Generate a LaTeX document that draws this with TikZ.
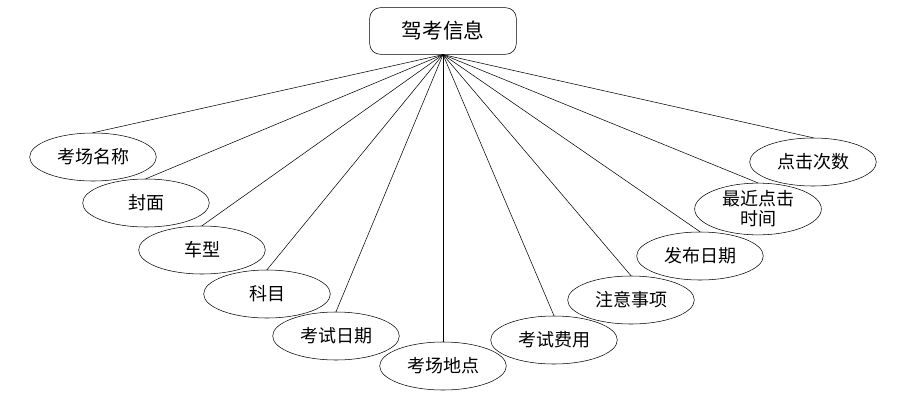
\documentclass[tikz,border=0pt]{standalone}
\usepackage{fontspec}
\setmainfont{Noto Sans CJK SC}
\usetikzlibrary{shapes.geometric}

\tikzset{
    attr/.style={draw, ellipse, thin, minimum width=95pt, minimum height=36pt,
        inner sep=0pt, align=center, font=\fontsize{13.5}{15}\selectfont},
    entity/.style={draw, rounded corners=8pt, thin, minimum width=110pt, minimum height=35pt,
        font=\fontsize{15.5}{17}\selectfont},
    link/.style={thin}
}

\begin{document}
\begin{tikzpicture}[x=0.75pt, y=-0.75pt]
        % Canvas
        \useasboundingbox (0,0) rectangle (922,400);

        % Entity
        \node[entity] (info) at (443,31) {驾考信息};

        % Attributes
        \node[attr] (name) at (93,157) {考场名称};
        \node[attr] (cover) at (146,203) {封面};
        \node[attr] (cartype) at (202,250) {车型};
        \node[attr] (subject) at (267,294) {科目};
        \node[attr] (examdate) at (336,336) {考试日期};
        \node[attr] (place) at (443,366) {考场地点};
        \node[attr] (fee) at (554,340) {考试费用};
        \node[attr] (notes) at (631,300) {注意事项};
        \node[attr] (pubdate) at (700,256) {发布日期};
        \node[attr] (lastclick) at (758,209) {最近点击\\时间};
        \node[attr] (clicks) at (813,162) {点击次数};

        % Links
        \draw[link] (info.south) -- (name.north);
        \draw[link] (info.south) -- (cover.north);
        \draw[link] (info.south) -- (cartype.north);
        \draw[link] (info.south) -- (subject.north);
        \draw[link] (info.south) -- (examdate.north);
        \draw[link] (info.south) -- (place.north);
        \draw[link] (info.south) -- (fee.north);
        \draw[link] (info.south) -- (notes.north);
        \draw[link] (info.south) -- (pubdate.north);
        \draw[link] (info.south) -- (lastclick.north);
        \draw[link] (info.south) -- (clicks.north);

    \end{tikzpicture}
\end{document}
